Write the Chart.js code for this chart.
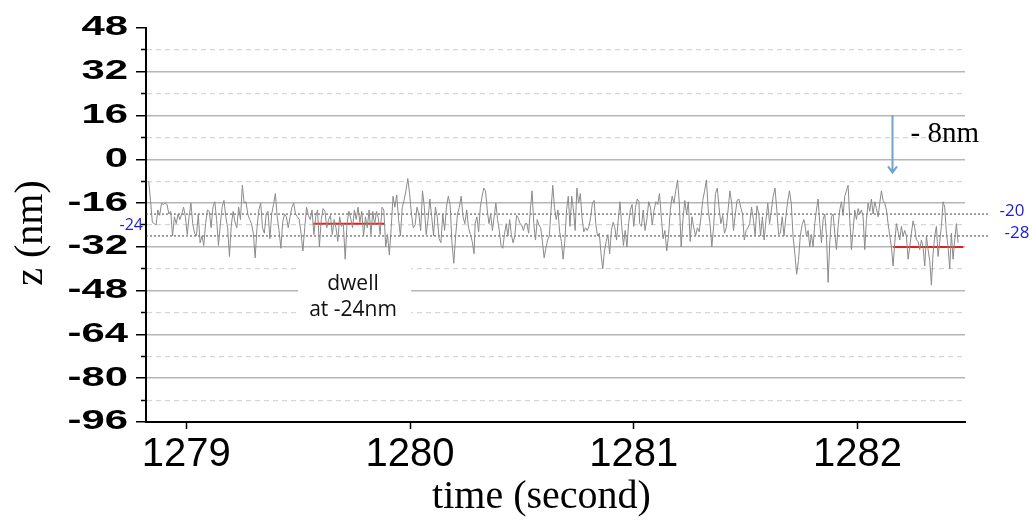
<!DOCTYPE html>
<html>
<head>
<meta charset="utf-8">
<script src="https://cdn.jsdelivr.net/npm/chart.js@4"></script>
<style>
    body { margin: 0; background: #fff; }
    #wrap { width: 1032px; height: 524px; }
</style>
</head>
<body>
<div id="wrap"><canvas id="chart" width="1032" height="524"></canvas></div>
<script>
// tick values
const xTicks = [1279, 1280, 1281, 1282]
const yTicks = [48, 40, 32, 24, 16, 8, 0, -8, -16, -24, -32, -40, -48, -56, -64, -72, -80, -88, -96]
const yLabels = [48, 32, 16, 0, -16, -32, -48, -64, -80, -96]

// z trace (nm) in five stretches of time
const traceA = [-8,-15,-23,-23.5,-24,-18.5,-20.5,-16,-16.5,-16,-16.5,-20,-19,-28,-21,-23.5,-20,-22,-20,-17.5,-21,-27.5,-21,-16,-23.5,-27,-28,-20,-30.5,-28,-31.5,-23.5,-18.5,-19,-25,-17.5,-15.5,-22,-31.5,-24,-17.5,-15,-21,-25,-35.5,-24,-19,-23,-25,-17.5,-22,-9.5,-16,-15.5,-20,-22,-23.5,-27,-36,-25,-18.5,-16,-25,-27,-20,-19,-29,-20,-16.5,-12.5,-21,-26,-32.5,-23,-20,-21,-25,-21,-17.5,-16,-20,-21,-22,-27,-33.5,-25,-17.5,-20.5,-22]
const traceB = [-18.5,-27.5,-21,-18.5,-32,-22,-18,-19,-25,-22,-20.5,-27.5,-22,-25,-30,-21,-24.5,-23.5,-36.5,-23.5,-19,-21.5,-25,-18.5,-22,-17.5,-23,-19,-28,-21,-25,-18.5,-27.5,-19,-24,-19,-21.5,-27.5,-17.5,-18.5,-32,-27.5,-35,-25,-13.5,-17.5,-13,-22,-28,-17.5,-15,-11.5,-7,-12.5,-20,-25,-24,-17.5,-20,-26,-11.5,-17.5,-27.5,-22,-14.5,-21,-28,-17.5,-21,-29,-30.5,-20,-26,-17.5,-13.5,-16.5,-30.5,-38,-28,-20,-17.5,-13.5,-21,-23.5,-18.5,-25,-27.5,-30,-34.5]
const traceC = [-23.5,-21,-26.5,-17.5,-13.5,-10.5,-11.5,-18.5,-23.5,-20,-26,-21,-16,-22,-26,-31.5,-32.5,-27.5,-23.5,-28,-22,-27.5,-30.5,-28,-20.5,-21.5,-23.5,-24,-26,-23.5,-23.5,-27,-18.5,-11.5,-23.5,-29.5,-22,-24,-25,-30,-36,-32.5,-29.5,-28,-18.5,-9.5,-17.5,-22,-18.5,-26.5,-30,-36.5,-30,-18.5,-13.5,-24.5,-13.5,-18.5,-26,-10.5,-16,-12.5,-21.5,-26.5,-25,-26,-24.5,-21,-16,-15,-24,-28,-27,-34.5,-40,-33.5,-30,-27.5,-34.5,-26,-23,-25,-29.5,-22,-15.5,-24.5,-31.5,-26,-32,-23.5,-18.5,-16.5,-24.5,-17.5,-14.5,-15.5]
const traceD = [-23.5,-24.5,-18.5,-26,-22,-15.5,-17.5,-24,-18.5,-15.5,-16.5,-12.5,-21,-29,-26,-33.5,-28,-18.5,-13.5,-16,-11.5,-7.5,-16,-32,-22,-15,-20,-15.5,-30,-21,-25,-28,-25,-26.5,-21,-15,-11.5,-7.5,-18.5,-23.5,-32,-24.5,-12.5,-10.5,-17.5,-23.5,-20.5,-27,-25,-18.5,-11.5,-16,-26,-20,-15,-14.5,-17.5,-20,-29.5,-26,-25,-23.5,-17.5,-22,-28,-17,-20,-28,-21,-29.5,-22,-16,-23.5,-18.5,-13.5,-10.5,-18.5,-27.5,-27,-21,-28,-21,-15.5,-11.5,-16,-28,-34.5,-42,-37,-28,-24,-22]
const traceE = [-23.5,-28,-26,-32,-27.5,-32,-23.5,-18.5,-14.5,-23.5,-30.5,-22,-20,-27.5,-45,-30.5,-21,-20,-27,-33,-24.5,-18.5,-15.5,-20.5,-13.5,-11.5,-9.5,-22,-33,-26,-18.5,-22,-18,-20,-18.5,-21,-33,-22,-16,-19,-14.5,-20,-15.5,-18,-21,-16,-11.5,-15,-16,-18.5,-23.5,-28,-32,-39,-30.5,-23.5,-26.5,-29.5,-24.5,-28,-26,-28,-36.5,-32,-27,-22.5,-25,-29.5,-30,-33,-29.5,-32,-39,-28,-33,-37,-46,-34.5,-28,-24.5,-35.5,-30,-24.5,-15.5,-17.5,-27,-32,-40,-27,-36.5,-29.5,-23.5,-30.5]
const traceSpans = [[1278.832, 1279.554], [1279.562, 1280.286], [1280.291, 1281.023], [1281.026, 1281.760], [1281.764, 1282.449]]

// dwell levels (red) and the two dotted guide levels
const dwellLevels = [-23.5, -32]
const dwellSpans = [[1279.567, 1279.885], [1282.159, 1282.472]]
const guideLevels = [-20, -28]
const guideEnd = 1282.585

// step arrow
const stepTime = 1282.156
const stepFrom = 16
const stepTo = -4.8

const xMin = 1278.82
const xMax = 1282.48

function tracePoints() {
    const pts = []
    const segs = [traceA, traceB, traceC, traceD, traceE]
    segs.forEach((seg, i) => {
        const [a, b] = traceSpans[i]
        seg.forEach((z, j) => {
            pts.push({ x: a + j * (b - a) / (seg.length - 1), y: z })
        })
    })
    return pts
}

const datasets = [{
    data: tracePoints(),
    borderColor: '#8a8a8a',
    borderWidth: 1,
    pointRadius: 0,
    tension: 0
}]
dwellLevels.forEach((z, i) => {
    datasets.push({
        data: [{ x: dwellSpans[i][0], y: z }, { x: dwellSpans[i][1], y: z }],
        borderColor: '#e3211c',
        borderWidth: 2,
        pointRadius: 0
    })
})
guideLevels.forEach(z => {
    datasets.push({
        data: [{ x: xMin, y: z }, { x: guideEnd, y: z }],
        borderColor: '#444',
        borderWidth: 1,
        borderDash: [2, 2],
        pointRadius: 0,
        clip: false
    })
})

// y tick labels in the picture are drawn wide, so stretch them sideways;
// both axis titles sit a little off the plot centre
const tweakScales = {
    id: 'tweakScales',
    afterLayout(chart) {
        const ys = chart.scales.y
        const xs = chart.scales.x
        if (ys._tweaked) return
        ys._tweaked = true
        const ctx = chart.ctx
        const drawY = ys.drawLabels.bind(ys)
        ys.drawLabels = function (area) {
            const px = ys.right - ys.options.grid.tickLength - ys.options.ticks.padding
            ctx.save()
            ctx.translate(px, 0)
            ctx.scale(1.55, 1)
            ctx.translate(-px, 0)
            drawY(area)
            ctx.restore()
        }
        const drawYTitle = ys.drawTitle.bind(ys)
        ys.drawTitle = function () {
            ctx.save()
            ctx.translate(0, 8)
            drawYTitle()
            ctx.restore()
        }
        const drawXTitle = xs.drawTitle.bind(xs)
        xs.drawTitle = function () {
            ctx.save()
            ctx.translate(-14, 0)
            drawXTitle()
            ctx.restore()
        }
    }
}

const notes = {
    id: 'notes',
    beforeDatasetsDraw(chart) {
        const { ctx, scales: { x, y } } = chart
        // white label box over the grid
        const x1 = x.getPixelForValue(1279.50), x2 = x.getPixelForValue(1280.005)
        const y1 = y.getPixelForValue(-37.2), y2 = y.getPixelForValue(-61)
        ctx.save()
        ctx.fillStyle = '#fff'
        ctx.fillRect(x1, y1, x2 - x1, y2 - y1)
        ctx.restore()
    },
    afterDatasetsDraw(chart) {
        const { ctx, scales: { x, y } } = chart
        ctx.save()
        // dwell label
        ctx.fillStyle = '#111'
        ctx.font = '21px "Open Sans"'
        ctx.textAlign = 'center'
        ctx.textBaseline = 'alphabetic'
        const cx = x.getPixelForValue(1279.745)
        const by = y.getPixelForValue(-48) - 1
        ctx.fillText('dwell', cx, by)
        ctx.fillText('at -24nm', cx, by + 26)

        // step arrow
        const ax = x.getPixelForValue(stepTime)
        const ay1 = y.getPixelForValue(stepFrom), ay2 = y.getPixelForValue(stepTo)
        ctx.strokeStyle = '#6fa2d6'
        ctx.lineWidth = 2
        ctx.beginPath()
        ctx.moveTo(ax, ay1)
        ctx.lineTo(ax, ay2)
        ctx.moveTo(ax - 4.5, ay2 - 6)
        ctx.lineTo(ax, ay2)
        ctx.lineTo(ax + 4.5, ay2 - 6)
        ctx.stroke()

        ctx.fillStyle = '#000'
        ctx.font = '29px "Liberation Serif"'
        ctx.textAlign = 'left'
        ctx.fillText('- 8nm', ax + 18, y.getPixelForValue(6.2))

        // blue level labels
        ctx.fillStyle = '#1c1cd0'
        ctx.font = '16px "Open Sans"'
        ctx.textBaseline = 'middle'
        ctx.textAlign = 'right'
        ctx.fillText('-24', x.left - 3, y.getPixelForValue(-24))
        ctx.textAlign = 'left'
        ctx.font = '17px "Open Sans"'
        ctx.fillText('-20', x.getPixelForValue(guideEnd) + 11, y.getPixelForValue(-20) - 3)
        ctx.fillText('-28', x.getPixelForValue(guideEnd) + 16, y.getPixelForValue(-28) - 3)
        ctx.restore()
    }
}

const isMajor = v => yLabels.includes(v)

new Chart(document.getElementById('chart'), {
    type: 'line',
    data: { datasets },
    plugins: [tweakScales, notes],
    options: {
        responsive: false,
        animation: false,
        layout: { padding: { left: 0, right: 67, top: 28, bottom: 0 } },
        plugins: { legend: { display: false }, tooltip: { enabled: false } },
        scales: {
            x: {
                type: 'linear',
                min: xMin,
                max: xMax,
                afterBuildTicks: s => { s.ticks = xTicks.map(v => ({ value: v })) },
                afterFit: s => { s.height = 102 },
                ticks: {
                    callback: v => String(v),
                    color: '#000',
                    font: { family: 'Liberation Sans', size: 40 },
                    padding: 2,
                    maxRotation: 0,
                    autoSkip: false
                },
                grid: { drawOnChartArea: false, tickLength: 7, tickColor: '#000', tickWidth: 1.5 },
                border: { color: '#000', width: 2 },
                title: {
                    display: true,
                    text: 'time (second)',
                    color: '#000',
                    font: { family: 'Liberation Serif', size: 40 },
                    padding: { top: 0, bottom: 3 }
                }
            },
            y: {
                min: -96,
                max: 48,
                afterBuildTicks: s => { s.ticks = yTicks.map(v => ({ value: v })) },
                afterFit: s => { s.width = 146 },
                ticks: {
                    callback: v => isMajor(v) ? String(v) : '',
                    color: '#000',
                    font: { family: 'Liberation Sans', size: 27, weight: 'bold' },
                    padding: 8,
                    autoSkip: false
                },
                grid: {
                    color: c => c.tick && c.tick.value === 48 ? 'rgba(0,0,0,0)' : (c.tick && isMajor(c.tick.value) ? '#b5b5b5' : '#d6d6d6'),
                    lineWidth: c => c.tick && isMajor(c.tick.value) ? 1.5 : 1.2,
                    tickColor: '#000',
                    tickWidth: 1.5,
                    tickLength: 10,
                    // short minor ticks against the axis
                    tickBorderDash: c => c.tick && isMajor(c.tick.value) ? [] : [0, 5, 5, 30]
                },
                border: {
                    color: '#000',
                    width: 2,
                    dash: c => c.tick && !isMajor(c.tick.value) ? [5, 4] : []
                },
                title: {
                    display: true,
                    text: 'z (nm)',
                    color: '#000',
                    font: { family: 'Liberation Serif', size: 40 },
                    padding: { top: 7, bottom: 0 }
                }
            }
        }
    }
})
</script>
</body>
</html>
